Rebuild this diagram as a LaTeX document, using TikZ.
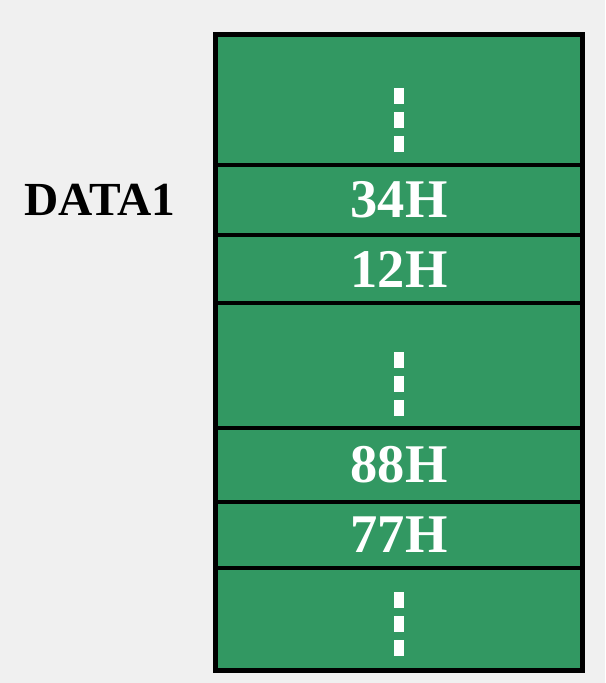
\documentclass[tikz,border=0pt]{standalone}
\usepackage{fontspec}
\setmainfont{Liberation Serif}
\usetikzlibrary{positioning}
\definecolor{cellgreen}{RGB}{50,152,98}
\definecolor{paper}{RGB}{240,240,240}
\begin{document}
\begin{tikzpicture}[node distance=0cm,
	cell/.style={draw=black, fill=cellgreen, line width=0.09cm, minimum width=7.34cm,
		inner sep=0pt, outer sep=0pt, text=white, font=\bfseries\fontsize{31}{31}\selectfont},
	vdots/.style={white, line width=0.2cm, dash pattern=on 0.32cm off 0.16cm},
	label/.style={inner sep=0pt, font=\bfseries\fontsize{27}{27}\selectfont}]
	\fill[paper] (0,0) rectangle (12.1,-13.66);
	\useasboundingbox (0,0) rectangle (12.1,-13.66);
	% memory cells, top to bottom
	\node[cell, minimum height=2.61cm, anchor=north] (c1) at (7.98,-0.69) {};
	\node[cell, minimum height=1.40cm, below=of c1] (c2) {34H};
	\node[cell, minimum height=1.36cm, below=of c2] (c3) {12H};
	\node[cell, minimum height=2.50cm, below=of c3] (c4) {};
	\node[cell, minimum height=1.48cm, below=of c4] (c5) {88H};
	\node[cell, minimum height=1.32cm, below=of c5] (c6) {77H};
	\node[cell, minimum height=2.05cm, below=of c6] (c7) {};
	% dots in the gaps
	\draw[vdots] ([yshift=-1.07cm]c1.north) -- ++(0,-1.28);
	\draw[vdots] ([yshift=-0.98cm]c4.north) -- ++(0,-1.28);
	\draw[vdots] ([yshift=-0.48cm]c7.north) -- ++(0,-1.28);
	\node[label, left=0.8cm of c2] (data) {DATA1};
\end{tikzpicture}
\end{document}
